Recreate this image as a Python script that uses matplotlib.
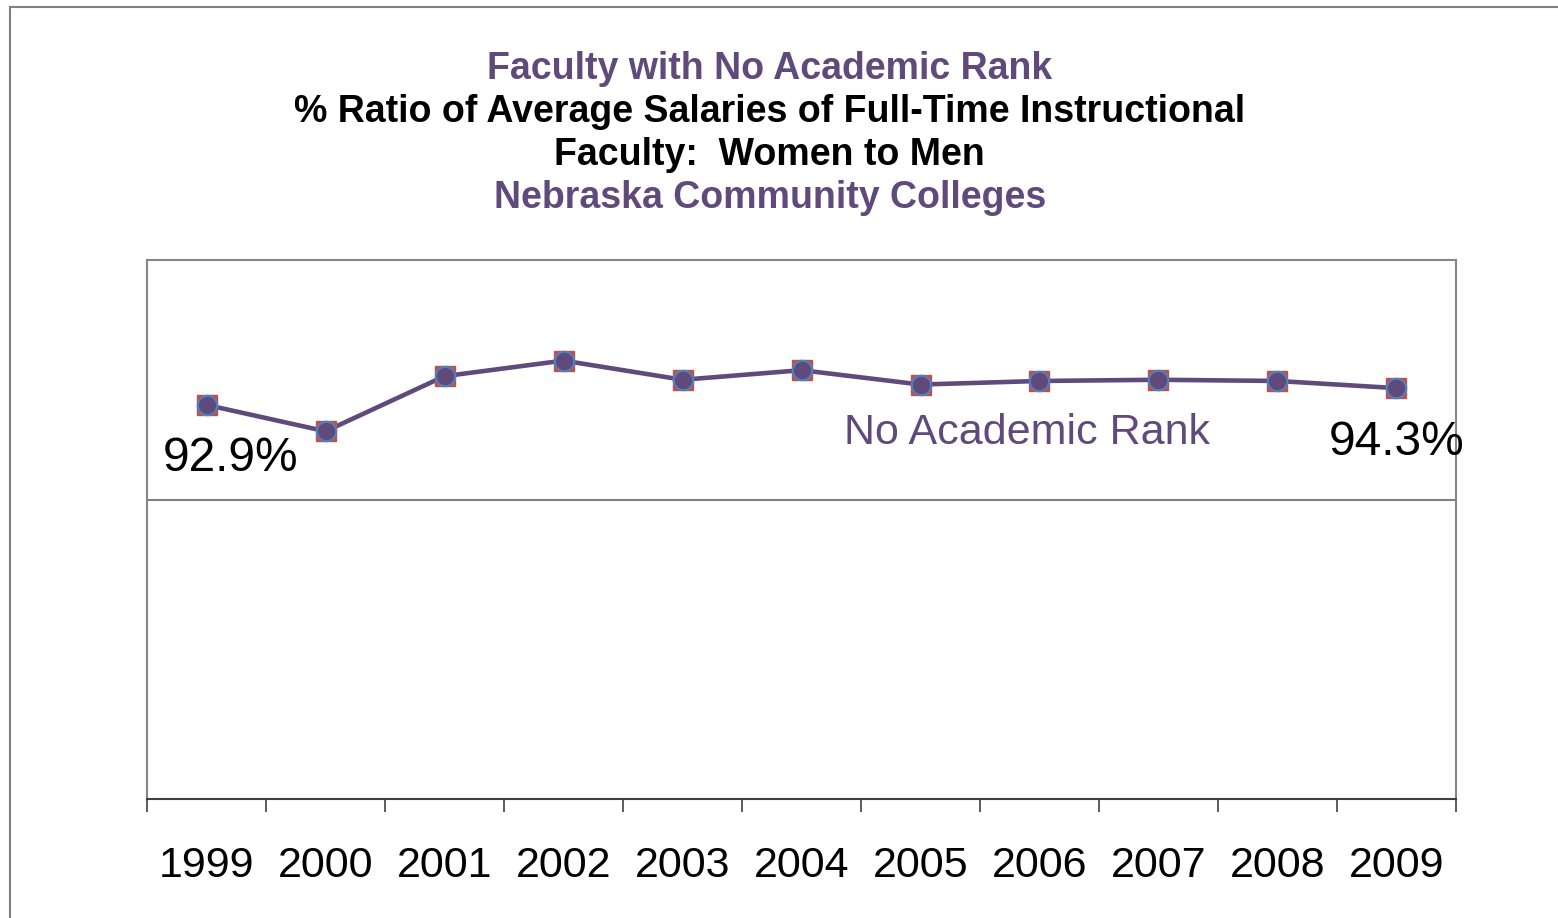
import matplotlib
matplotlib.use("Agg")
import matplotlib.pyplot as plt
from matplotlib.lines import Line2D

plt.rcParams["font.family"] = ["Liberation Sans", "DejaVu Sans"]

# data
years = ["1999", "2000", "2001", "2002", "2003", "2004",
         "2005", "2006", "2007", "2008", "2009"]
ratio = [92.9, 90.7, 95.3, 96.6, 95.0, 95.8, 94.6, 94.9, 95.0, 94.9, 94.3]
series_name = "No Academic Rank"
title_lines = [
    ("Faculty with No Academic Rank", "#604A7B"),
    ("% Ratio of Average Salaries of Full-Time Instructional", "black"),
    ("Faculty:  Women to Men", "black"),
    ("Nebraska Community Colleges", "#604A7B"),
]

purple = "#604A7B"

fig = plt.figure(figsize=(15.58, 9.18), dpi=100)
ax = fig.add_axes([0.0944, 0.1296, 0.8401, 0.5872])

x = list(range(len(years)))
ax.plot(x, ratio, color=purple, lw=3.3, zorder=3)
ax.plot(x, ratio, ls="none", marker="s", ms=15, mfc="#C0504D", mec="#C0504D", zorder=4)
ax.plot(x, ratio, ls="none", marker="o", ms=14, mfc=purple, mec="#4F81BD", mew=1.5, zorder=5)

ax.set_xlim(-0.5, len(years) - 0.5)
ax.set_ylim(60, 105)
ax.axhline(85, color="#808080", lw=1.5, zorder=1)

# category boundary ticks, labels at centers
ax.set_xticks([i - 0.5 for i in range(len(years) + 1)])
ax.set_xticklabels([])
ax.tick_params(axis="x", which="major", direction="out", length=9.5, width=1.2, color="#404040")
ax.set_xticks(x, minor=True)
ax.set_xticklabels(years, minor=True, fontsize=31)
ax.tick_params(axis="x", which="minor", length=0, pad=34)
ax.set_yticks([])

for s in ["top", "left", "right"]:
    ax.spines[s].set_color("#868686")
    ax.spines[s].set_linewidth(1.5)
ax.spines["bottom"].set_color("#404040")
ax.spines["bottom"].set_linewidth(1.5)

# data labels at ends
ax.annotate(f"{ratio[0]:.1f}%", (x[0], ratio[0]), xytext=(24, -54),
            textcoords="offset pixels", ha="center", va="center", fontsize=34.5)
ax.annotate(f"{ratio[-1]:.1f}%", (x[-1], ratio[-1]), xytext=(0, -54),
            textcoords="offset pixels", ha="center", va="center", fontsize=34.5)
ax.text(0.672, 0.679, series_name, transform=ax.transAxes, ha="center",
        va="center", fontsize=31, color=purple)

# titles
for (txt, col), yy in zip(title_lines, [0.925, 0.878, 0.831, 0.784]):
    fig.text(0.494, yy, txt, ha="center", va="center", fontsize=27,
             fontweight="bold", color=col)

# outer chart border
fig.add_artist(Line2D([10 / 1558, 10 / 1558], [0, 1 - 6.5 / 918],
                      transform=fig.transFigure, color="#808080", lw=1.5))
fig.add_artist(Line2D([10 / 1558, 1], [1 - 6.5 / 918, 1 - 6.5 / 918],
                      transform=fig.transFigure, color="#808080", lw=1.5))

fig.savefig("out.png", dpi=100)
